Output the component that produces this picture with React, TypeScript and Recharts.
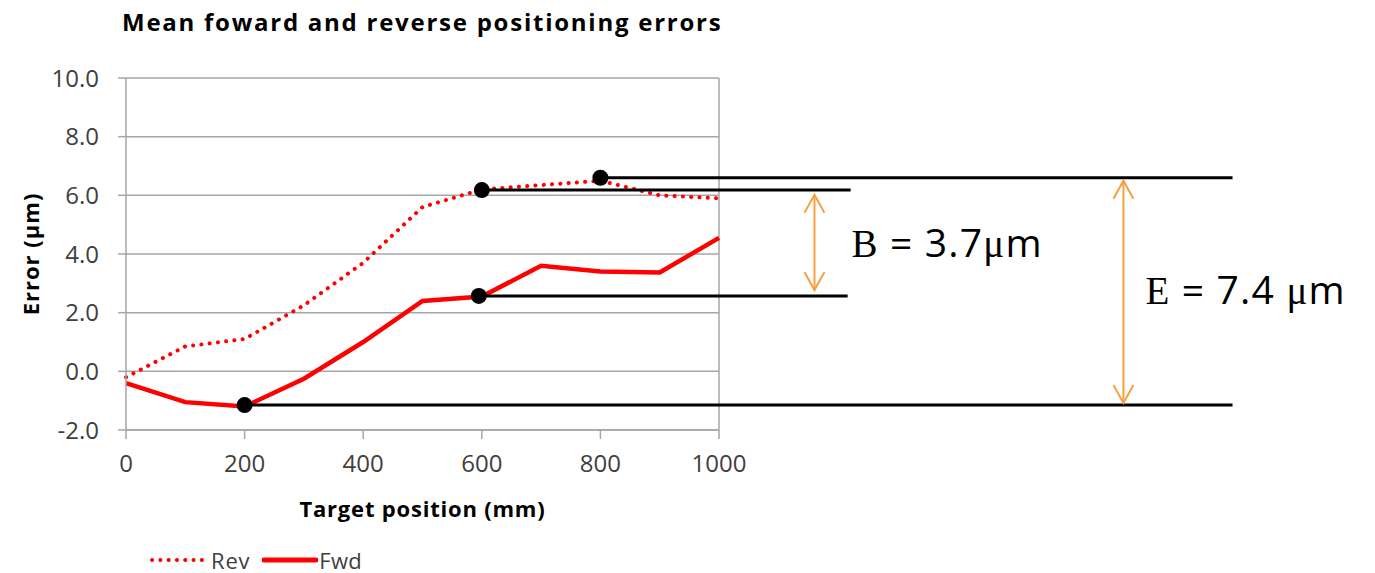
import React from "react";
import {
  LineChart,
  Line,
  XAxis,
  YAxis,
  CartesianGrid,
  Legend,
  ReferenceLine,
  ReferenceDot,
} from "recharts";

// target positions (mm)
const positions = [0, 100, 200, 300, 400, 500, 600, 700, 800, 900, 1000];
// mean reverse error (µm)
const rev = [-0.2, 0.85, 1.1, 2.25, 3.7, 5.6, 6.2, 6.35, 6.5, 6.0, 5.9];
// mean forward error (µm)
const fwd = [-0.4, -1.05, -1.2, -0.25, 1.0, 2.4, 2.55, 3.6, 3.4, 3.37, 4.55];

const xTicks = [0, 200, 400, 600, 800, 1000];
const yTicks = [-2, 0, 2, 4, 6, 8, 10];

// annotation markers: where each guide line starts and how far it runs
const markerX = [200, 595, 600, 800];
const markerY = [-1.15, 2.57, 6.18, 6.6];
const guideEndX = [1866, 1217, 1222, 1866];

// double arrows (B = backlash, E = total error)
const arrowX = [1161, 1682];
const arrowTop = [6.02, 6.5];
const arrowBottom = [2.77, -1.08];
const arrowLetter = ["B", "E"];
const arrowValue = [" = 3.7", " = 7.4 "];

const data = positions.map((p, i) => ({ pos: p, rev: rev[i], fwd: fwd[i] }));

const RED = "#ff0000";
const ORANGE = "#f7a043";
const GRID = "#a6a6a6";
const TEXT = "#404040";
const FONT = "'Open Sans', 'Noto Sans', sans-serif";

function makeArrow(idx: number) {
  return (p: any) => {
    const x = p.x1;
    const top = Math.min(p.y1, p.y2);
    const bot = Math.max(p.y1, p.y2);
    const mid = (top + bot) / 2;
    const hw = 10;
    const hh = 18;
    const dx = idx === 0 ? 37 : 22;
    const dy = idx === 0 ? 15 : 12;
    return (
      <g>
        <line x1={x} y1={top} x2={x} y2={bot} stroke={ORANGE} strokeWidth={2} />
        <polyline
          points={`${x - hw},${top + hh} ${x},${top} ${x + hw},${top + hh}`}
          fill="none"
          stroke={ORANGE}
          strokeWidth={2}
        />
        <polyline
          points={`${x - hw},${bot - hh} ${x},${bot} ${x + hw},${bot - hh}`}
          fill="none"
          stroke={ORANGE}
          strokeWidth={2}
        />
        <text
          x={x + dx}
          y={mid + dy}
          fontSize={39}
          letterSpacing={1.2}
          fill="#000"
          fontFamily={FONT}
        >
          <tspan fontFamily="'Liberation Serif', serif">{arrowLetter[idx]}</tspan>
          <tspan>{arrowValue[idx]}</tspan>
          <tspan fontFamily="'Liberation Serif', serif">μ</tspan>
          <tspan>m</tspan>
        </text>
      </g>
    );
  };
}

function LegendContent() {
  return (
    <div
      style={{
        display: "flex",
        alignItems: "center",
        fontFamily: FONT,
        fontSize: 22,
        color: TEXT,
        height: 26,
      }}
    >
      <svg width={56} height={10}>
        <line
          x1={3}
          y1={5}
          x2={53}
          y2={5}
          stroke={RED}
          strokeWidth={4}
          strokeDasharray="0.1 8.2"
          strokeLinecap="round"
        />
      </svg>
      <span style={{ marginLeft: 6, marginRight: 12, letterSpacing: 0.8 }}>Rev</span>
      <svg width={56} height={10}>
        <line x1={2} y1={5} x2={54} y2={5} stroke={RED} strokeWidth={5} strokeLinecap="round" />
      </svg>
      <span style={{ marginLeft: 1, letterSpacing: 0.3 }}>Fwd</span>
    </div>
  );
}

export default function App() {
  return (
    <div
      style={{
        position: "absolute",
        left: 0,
        top: 0,
        width: 1375,
        height: 573,
        background: "#fff",
      }}
    >
      <div
        style={{
          position: "absolute",
          left: 122,
          top: 5,
          fontFamily: FONT,
          fontWeight: 700,
          fontSize: 24,
          letterSpacing: 1.75,
          color: "#000",
          whiteSpace: "nowrap",
        }}
      >
        Mean foward and reverse positioning errors
      </div>
      <LineChart
        width={1375}
        height={573}
        data={data}
        margin={{ top: 78, right: 656, left: 0, bottom: 25 }}
      >
        <CartesianGrid vertical={false} stroke={GRID} strokeWidth={1.5} />
        <XAxis
          dataKey="pos"
          type="number"
          domain={[0, 1000]}
          ticks={xTicks}
          height={92}
          tickSize={9}
          tickMargin={16}
          stroke={GRID}
          strokeWidth={1.5}
          tick={{ fill: TEXT, fontSize: 24, fontFamily: FONT }}
          label={{
            value: "Target position  (mm)",
            position: "insideBottom",
            offset: 5,
            fill: "#000",
            fontSize: 22,
            fontWeight: 700,
            letterSpacing: 0.8,
            fontFamily: FONT,
          }}
        />
        <YAxis
          type="number"
          domain={[-2, 10]}
          ticks={yTicks}
          width={126}
          tickSize={8}
          tickMargin={19}
          stroke={GRID}
          strokeWidth={1.5}
          tickFormatter={(v: number) => v.toFixed(1)}
          tick={{ fill: TEXT, fontSize: 24, fontFamily: FONT }}
          label={{
            content: (props: any) => {
              const vb = props.viewBox;
              const cy = vb.y + vb.height / 2;
              return (
                <text
                  x={30}
                  y={cy}
                  transform={`rotate(-90, 30, ${cy})`}
                  textAnchor="middle"
                  dominantBaseline="central"
                  fontSize={22}
                  fontWeight={700}
                  letterSpacing={1}
                  fontFamily={FONT}
                  fill="#000"
                >
                  Error (μm)
                </text>
              );
            },
          }}
        />
        <ReferenceLine x={1000} stroke={GRID} strokeWidth={1.5} />
        <Legend
          verticalAlign="bottom"
          content={<LegendContent />}
          wrapperStyle={{ top: 547, left: 149, width: "auto", height: 26 }}
        />
        <Line
          dataKey="rev"
          name="Rev"
          stroke={RED}
          strokeWidth={4}
          strokeDasharray="0.1 8.2"
          strokeLinecap="round"
          dot={false}
          activeDot={false}
          isAnimationActive={false}
        />
        <Line
          dataKey="fwd"
          name="Fwd"
          stroke={RED}
          strokeWidth={4.5}
          dot={false}
          activeDot={false}
          isAnimationActive={false}
        />
        {markerX.map((mx, i) => (
          <ReferenceLine
            key={`g${i}`}
            segment={[
              { x: mx, y: markerY[i] },
              { x: guideEndX[i], y: markerY[i] },
            ]}
            stroke="#000"
            strokeWidth={3}
            ifOverflow="visible"
          />
        ))}
        {markerX.map((mx, i) => (
          <ReferenceDot
            key={`d${i}`}
            x={mx}
            y={markerY[i]}
            r={8}
            fill="#000"
            stroke="none"
            ifOverflow="visible"
          />
        ))}
        {arrowX.map((ax, i) => (
          <ReferenceLine
            key={`a${i}`}
            segment={[
              { x: ax, y: arrowTop[i] },
              { x: ax, y: arrowBottom[i] },
            ]}
            ifOverflow="visible"
            shape={makeArrow(i)}
          />
        ))}
      </LineChart>
    </div>
  );
}
